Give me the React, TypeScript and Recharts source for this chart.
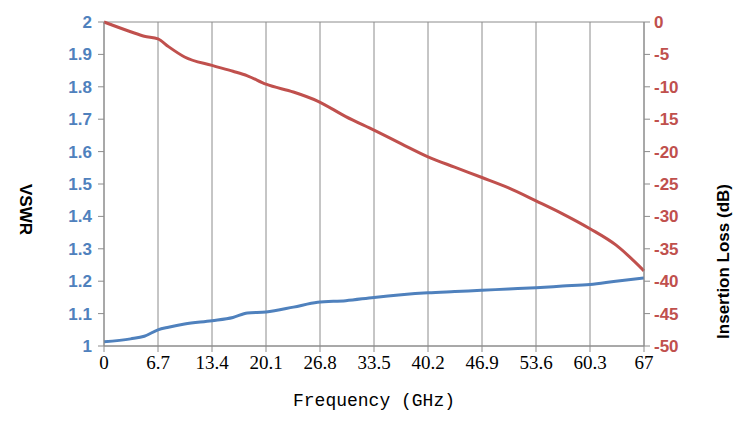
import React from 'react';
import { ComposedChart, Line, XAxis, YAxis, CartesianGrid } from 'recharts';

const freqTicks = [0, 6.7, 13.4, 20.1, 26.8, 33.5, 40.2, 46.9, 53.6, 60.3, 67];
const vswrTicks = [1, 1.1, 1.2, 1.3, 1.4, 1.5, 1.6, 1.7, 1.8, 1.9, 2];
const lossTicks = [0, -5, -10, -15, -20, -25, -30, -35, -40, -45, -50];

const freq = [0, 3.3, 5, 6.7, 8, 10, 13.4, 16, 17.8, 20.1, 23.5, 26.5, 30, 33.5, 36.9, 40.2, 43.5, 46.9, 50.2, 53.6, 56.9, 60.3, 63.5, 67];
const vswr = [1.013, 1.022, 1.03, 1.05, 1.058, 1.068, 1.078, 1.088, 1.102, 1.105, 1.12, 1.135, 1.14, 1.15, 1.158, 1.164, 1.168, 1.172, 1.176, 1.18, 1.185, 1.19, 1.2, 1.21];
const loss = [0, -1.5, -2.2, -2.6, -3.8, -5.4, -6.7, -7.6, -8.3, -9.6, -10.8, -12.2, -14.6, -16.7, -18.8, -20.8, -22.4, -24.0, -25.6, -27.6, -29.6, -31.9, -34.4, -38.4];

const data = freq.map((f, i) => ({ f, vswr: vswr[i], loss: loss[i] }));

const tickFont = { fontFamily: 'Liberation Sans', fontSize: 17, fontWeight: 'bold' };
const gridColor = '#8c8c8c';

export default function App() {
  document.body.style.margin = '0';
  return (
    <div style={{ width: 749, height: 444, background: '#fff' }}>
      <ComposedChart width={749} height={444} data={data} margin={{ top: 22, right: 0, bottom: 28, left: 0 }}>
        <CartesianGrid stroke={gridColor} />
        <XAxis
          dataKey="f"
          type="number"
          domain={[0, 67]}
          ticks={freqTicks}
          height={70}
          axisLine={{ stroke: gridColor }}
          tickLine={{ stroke: gridColor }}
          tickSize={6}
          tick={{ fontFamily: 'Liberation Serif', fontSize: 19, fill: '#000' }}
          tickMargin={4}
          label={{ value: 'Frequency (GHz)', position: 'insideBottom', offset: 10, style: { fontFamily: 'Liberation Mono', fontSize: 18, fill: '#000' } }}
        />
        <YAxis
          yAxisId="v"
          domain={[1, 2]}
          ticks={vswrTicks}
          width={104}
          axisLine={{ stroke: gridColor }}
          tickLine={{ stroke: gridColor }}
          tickSize={6}
          tick={{ ...tickFont, fill: '#4F81BD' }}
          tickMargin={6}
          label={{ value: 'VSWR', angle: 90, position: 'insideLeft', offset: 26, style: { ...tickFont, fill: '#000' } }}
        />
        <YAxis
          yAxisId="l"
          orientation="right"
          domain={[-50, 0]}
          ticks={lossTicks}
          width={105}
          axisLine={{ stroke: gridColor }}
          tickLine={{ stroke: gridColor }}
          tickSize={6}
          tick={{ ...tickFont, fill: '#C0504D' }}
          tickMargin={4}
          label={{ value: 'Insertion Loss (dB)', angle: -90, position: 'insideRight', offset: 26, style: { ...tickFont, fill: '#000' } }}
        />
        <Line yAxisId="v" dataKey="vswr" type="monotone" stroke="#4F81BD" strokeWidth={3} dot={false} isAnimationActive={false} />
        <Line yAxisId="l" dataKey="loss" type="monotone" stroke="#C0504D" strokeWidth={3} dot={false} isAnimationActive={false} />
      </ComposedChart>
    </div>
  );
}
